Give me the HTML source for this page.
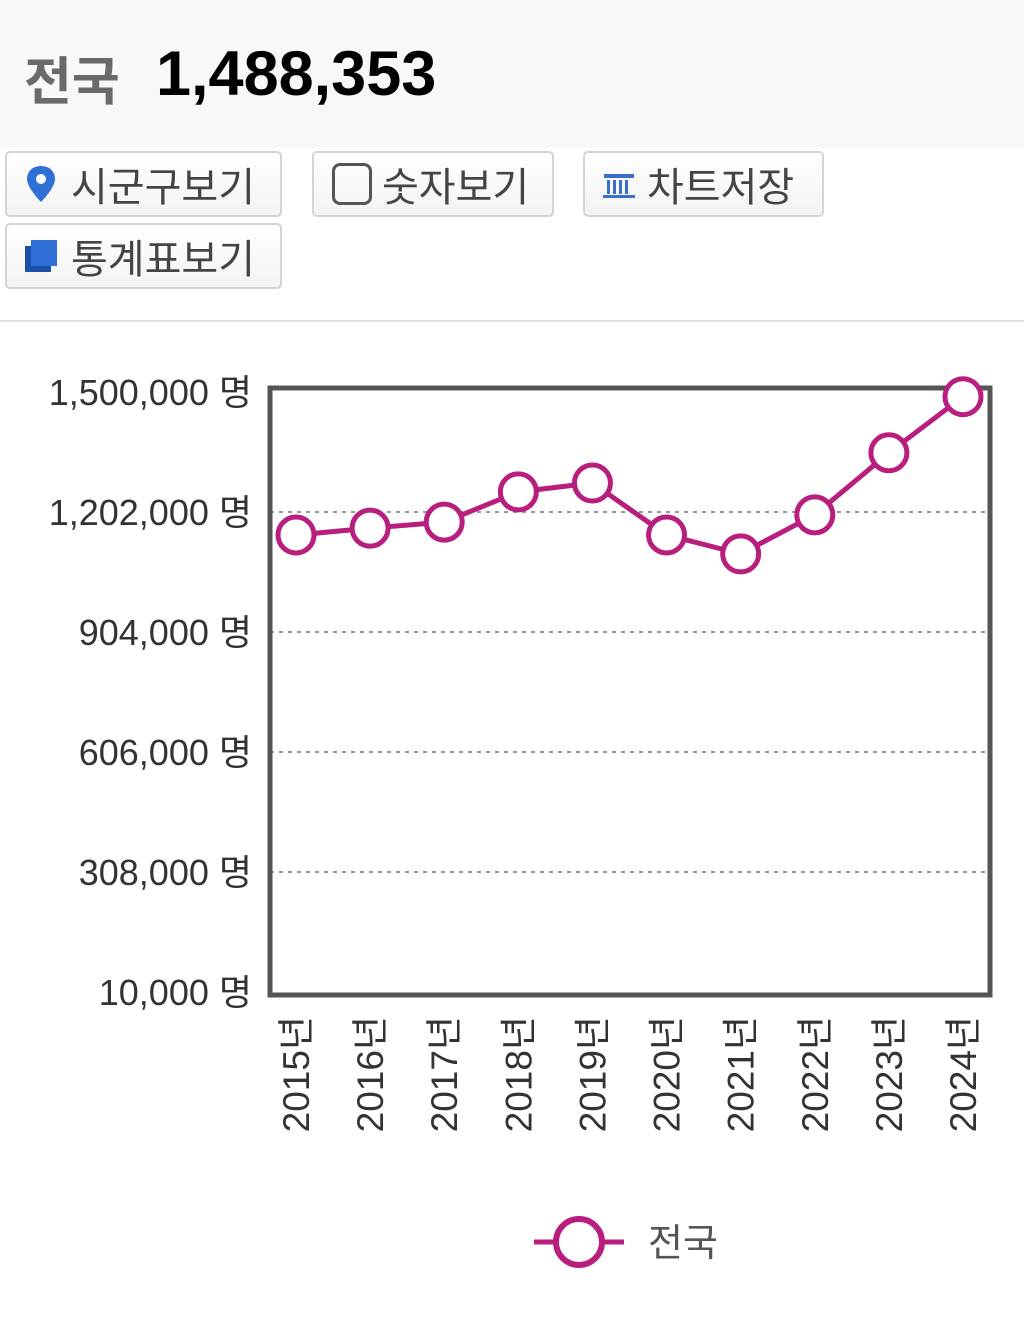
<!DOCTYPE html>
<html><head><meta charset="utf-8">
<style>
body{margin:0;width:1024px;height:1317px;background:#fff;font-family:"Liberation Sans","Noto Sans CJK KR",sans-serif;position:relative;overflow:hidden}
.header{position:absolute;left:0;top:0;width:1024px;height:148px;background:#f8f8f8}
.btn{position:absolute;height:66px;border:2px solid #d4d4d4;border-radius:5px;background:linear-gradient(#fff,#f3f3f3);box-sizing:border-box;font-size:40px;color:#444;display:flex;align-items:center}
.btn span{margin-left:10px}
</style></head><body>
<div class="header">
<span style="position:absolute;left:24px;top:40px;font-size:52px;font-weight:bold;color:#6a6a6a">전국</span>
<span style="position:absolute;left:156px;top:38px;font-size:63px;font-weight:bold;color:#000">1,488,353</span>
</div>
<div class="btn" style="left:5px;top:151px;width:277px">
<svg width="40" height="44" viewBox="0 0 40 44" style="margin-left:14px"><path d="M20 4 C10 4 6 11 6 17 C6 26 20 40 20 40 C20 40 34 26 34 17 C34 11 30 4 20 4Z" fill="#2f6fd6"/><circle cx="20" cy="17" r="5" fill="#fff"/></svg><span>시군구보기</span></div>
<div class="btn" style="left:312px;top:151px;width:242px">
<div style="width:40px;height:42px;border:3px solid #555;border-radius:8px;margin-left:18px;box-sizing:border-box"></div><span>숫자보기</span></div>
<div class="btn" style="left:583px;top:151px;width:241px">
<svg width="36" height="32" viewBox="0 0 36 32" style="margin-left:16px"><g fill="#3a6fc9"><rect x="3" y="6" width="30" height="4"/><rect x="6" y="12" width="3" height="14"/><rect x="12" y="12" width="3" height="14"/><rect x="18" y="12" width="3" height="14"/><rect x="24" y="12" width="3" height="14"/><rect x="2" y="27" width="32" height="3"/></g></svg><span>차트저장</span></div>
<div class="btn" style="left:5px;top:223px;width:277px">
<svg width="40" height="40" viewBox="0 0 40 40" style="margin-left:14px"><rect x="4" y="10" width="26" height="26" fill="#1c4fa8"/><rect x="10" y="4" width="26" height="26" fill="#2f6fd6"/></svg><span>통계표보기</span></div>
<div style="position:absolute;left:0;top:320px;width:1024px;height:2px;background:#ddd"></div>

<svg id="chart" width="1024" height="1317" style="position:absolute;left:0;top:0"></svg>
<script>
const categories=["2015년","2016년","2017년","2018년","2019년","2020년","2021년","2022년","2023년","2024년"];
const values=[1145000,1162000,1177000,1252000,1274000,1145000,1098000,1195000,1349000,1488353];
const yTicks=[10000,308000,606000,904000,1202000,1500000];
const yTickLabels=["10,000 명","308,000 명","606,000 명","904,000 명","1,202,000 명","1,500,000 명"];
const seriesName="전국";
const NS="http://www.w3.org/2000/svg";
const svg=document.getElementById('chart');
const L=270,R=990,T=388,B=995;
const yMin=10000,yMax=1500000,yTop=392,yBot=992;
const y=v=>yBot-(v-yMin)/(yMax-yMin)*(yBot-yTop);
const x0=296,x1=963;
const x=i=>x0+i*(x1-x0)/(categories.length-1);
const C='#b81e7e';
function mk(t,a){const e=document.createElementNS(NS,t);for(const k in a)e.setAttribute(k,a[k]);svg.appendChild(e);return e;}
yTicks.forEach((v,i)=>{
 if(i>0&&i<yTicks.length-1){const g=mk('line',{x1:L,x2:R,y1:y(v),y2:y(v),stroke:'#999','stroke-width':2,'stroke-dasharray':'4 5'});
 
 }
 const t=mk('text',{x:252,y:y(v)+13,'text-anchor':'end','font-size':36,fill:'#333'});
 t.textContent=yTickLabels[i];
 
 
});
const frame=mk('rect',{x:L,y:T,width:R-L,height:B-T,fill:'none',stroke:'#555','stroke-width':5});


categories.forEach((c,i)=>{
 const t=mk('text',{transform:`translate(${x(i)+13},1016) rotate(-90)`,'text-anchor':'end','font-size':37,fill:'#333'});
 t.textContent=c;
 
 
});
const line=mk('polyline',{points:values.map((v,i)=>x(i)+','+y(v)).join(' '),fill:'none',stroke:C,'stroke-width':5});


values.forEach((v,i)=>{
 const p=mk('circle',{cx:x(i),cy:y(v),r:18,fill:'#fff',stroke:C,'stroke-width':5});
 
 
});
const ll=mk('line',{x1:534,x2:624,y1:1242,y2:1242,stroke:C,'stroke-width':5});


const lc=mk('circle',{cx:579,cy:1242,r:23,fill:'#fff',stroke:C,'stroke-width':6});


const lt=mk('text',{x:648,y:1256,'font-size':38,fill:'#555'});
lt.textContent=seriesName;


</script>
</body></html>
